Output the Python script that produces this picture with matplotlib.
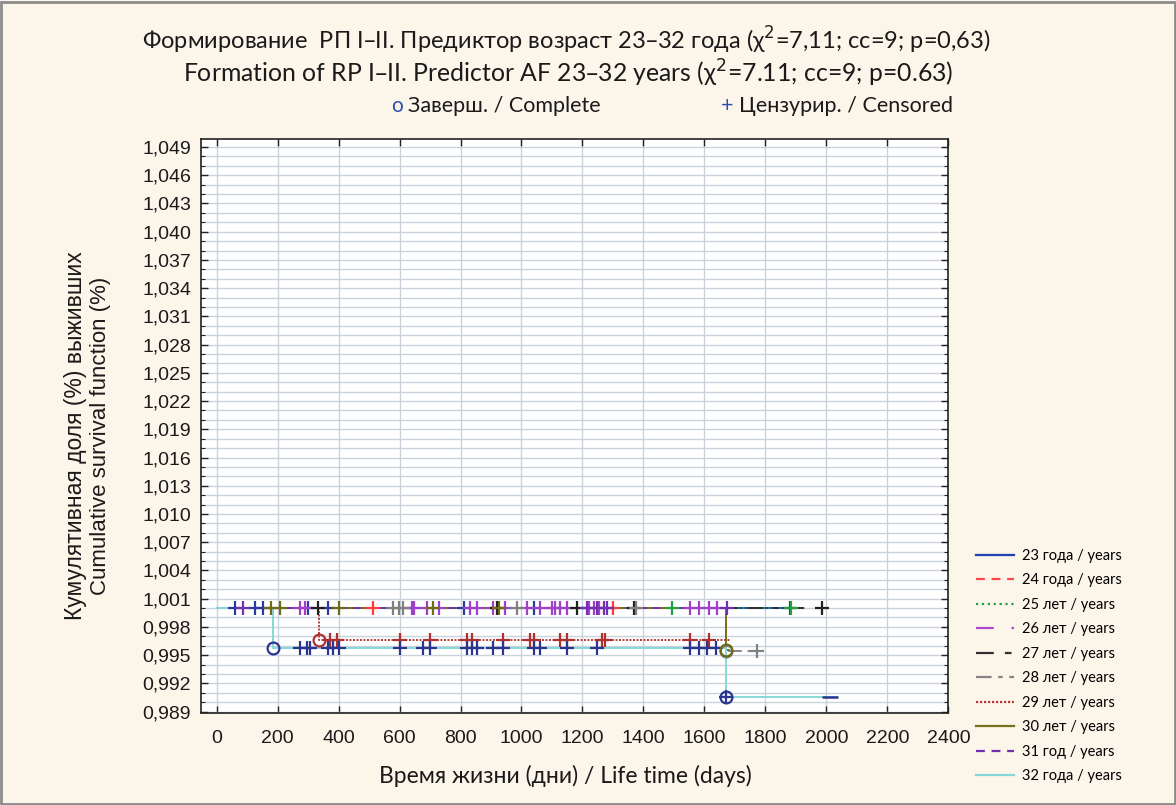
import numpy as np
import matplotlib.pyplot as plt
from matplotlib.lines import Line2D
from matplotlib.patches import Rectangle
from matplotlib.ticker import MultipleLocator, FixedLocator, FuncFormatter

labels = ['23 года / years', '24 года / years', '25 лет / years', '26 лет / years',
          '27 лет / years', '28 лет / years', '29 лет / years', '30 лет / years',
          '31 год / years', '32 года / years']

# step data per group: drop times and new survival level, censored times, last time
drop_times = [[], [], [], [], [], [1670], [335], [1670], [], [185, 1670]]
drop_levels = [[], [], [], [], [], [0.9954], [0.9966], [0.9955], [], [0.9958, 0.9906]]
censored = [
    [60, 126, 153, 301, 367, 810, 1040, 1880],
    [514, 1300],
    [1494, 1883],
    [274, 290, 640, 646, 690, 728, 832, 854, 908, 947, 1018, 1062, 1100, 1111,
     1127, 1149, 1220, 1237, 1253, 1554, 1582, 1614, 1642],
    [334, 920, 1182, 1368, 1987],
    [580, 597, 613, 985, 1374, 1773],
    [372, 394, 602, 700, 821, 837, 941, 1029, 1040, 1127, 1149, 1264, 1275,
     1554, 1614],
    [180, 208, 400, 711, 925],
    [88, 1215, 1248, 1270, 1281, 1675],
    [274, 295, 306, 367, 383, 400, 602, 678, 700, 821, 837, 854, 908, 941,
     1040, 1062, 1149, 1248, 1554, 1581, 1609, 1637, 1670],
]
end_times = [1880, 1400, 1883, 1660, 1940, 1773, 1686, 1680, 1675, 2036]

line_colors = ['#2040b0', '#ff4a4a', '#22a040', '#b048d0', '#303030', '#858585',
               '#b83a3a', '#767220', '#7030b0', '#86d8d8']
mark_colors = ['#2a3aa0', '#ff3a3a', '#22a040', '#a040c8', '#202020', '#808080',
               '#b03030', '#6e6a18', '#7030b0', '#2a3590']
line_styles = ['-', (0, (4, 3)), ':', (0, (8, 8)), (0, (8, 5, 3, 5)),
               (0, (7, 3, 2, 3)), (0, (1, 0.8)), '-', (0, (4, 3)), '-']

yticks = np.round(np.arange(0.989, 1.0495, 0.003), 3)
xticks = np.arange(0, 2401, 200)

title1 = 'Формирование  РП I–II. Предиктор возраст 23–32 года (χ$^2$=7,11; сс=9; p=0,63)'
title2 = 'Formation of RP I–II. Predictor AF 23–32 years (χ$^2$=7.11; cc=9; p=0.63)'

bg = '#fcf5ea'
fig = plt.figure(figsize=(11.76, 8.05), dpi=100, facecolor=bg)
fig.add_artist(Rectangle((0.001, 0.001), 0.998, 0.997, transform=fig.transFigure,
                         fill=False, ec='#8c8c8c', lw=2))
ax = fig.add_axes([0.1707, 0.1143, 0.8064 - 0.1707, 0.8273 - 0.1143])
ax.set_facecolor('white')

def level_at(t, dts, dls):
    lv = 1.0
    for d, l in zip(dts, dls):
        if t >= d:
            lv = l
    return lv

for i in range(len(labels)):
    xs = [0]
    ys = [1.0]
    lv = 1.0
    for d, l in zip(drop_times[i], drop_levels[i]):
        xs += [d, d]
        ys += [lv, l]
        lv = l
    xs.append(end_times[i])
    ys.append(lv)
    ax.plot(xs, ys, color=line_colors[i], ls=line_styles[i], lw=1.4, zorder=3)
    cy = [level_at(t, drop_times[i], drop_levels[i]) for t in censored[i]]
    ax.plot(censored[i], cy, ls='none', marker='+', ms=10, mew=1.6,
            color=mark_colors[i], zorder=4)
    for d, l in zip(drop_times[i], drop_levels[i]):
        ax.plot([d], [l], ls='none', marker='o', ms=8.5, mew=1.6, mfc='none',
                mec=mark_colors[i], zorder=5)
# short dash at the end of the lowest curve
ax.plot([end_times[9] - 25], [drop_levels[9][-1]], ls='none', marker='_', ms=11,
        mew=1.8, color=mark_colors[9], zorder=4)

ax.set_xlim(-52, 2400)
ax.set_ylim(0.98885, 1.04985)
ax.xaxis.set_major_locator(FixedLocator(xticks))
ax.yaxis.set_major_locator(FixedLocator(yticks))
ax.yaxis.set_minor_locator(MultipleLocator(0.001))
ax.yaxis.set_major_formatter(FuncFormatter(lambda v, p: ('%.3f' % v).replace('.', ',')))
ax.grid(True, which='major', axis='x', color='#c9d2da', lw=1)
ax.grid(True, which='both', axis='y', color='#c9d2da', lw=1)
ax.set_axisbelow(True)
ax.tick_params(which='major', direction='in', top=True, right=True, length=5,
               width=1, labelsize=14, labelcolor='#1a1a1a', color='#222222')
ax.tick_params(axis='x', pad=12)
ax.tick_params(axis='y', pad=7)
ax.tick_params(which='minor', direction='in', right=True, length=3, width=0.8,
               color='#222222')
for lb in ax.get_xticklabels() + ax.get_yticklabels():
    lb.set_fontfamily('Liberation Sans')
for s in ax.spines.values():
    s.set_color('#222222')
    s.set_linewidth(1.2)

fig.text(566 / 1176, 1 - 40 / 805, title1, ha='center', va='center', fontsize=17,
         family='Lato', color='#1a1a1a')
fig.text(568 / 1176, 1 - 73 / 805, title2, ha='center', va='center', fontsize=17.8,
         family='Lato', color='#1a1a1a')
fig.text(397 / 1176, 1 - 106 / 805, 'o', ha='center', va='center', fontsize=15,
         family='Lato', color='#2f4fb0')
fig.text(408 / 1176, 1 - 106 / 805, 'Заверш. / Complete', ha='left', va='center',
         fontsize=15.5, family='Lato', color='#1a1a1a')
fig.text(727 / 1176, 1 - 106 / 805, '+', ha='center', va='center', fontsize=15.5,
         family='Lato', color='#2f4fb0')
fig.text(739 / 1176, 1 - 106 / 805, 'Цензурир. / Censored', ha='left', va='center',
         fontsize=15.5, family='Lato', color='#1a1a1a')

fig.text(565 / 1176, 1 - 776 / 805, 'Время жизни (дни) / Life time (days)',
         ha='center', va='center', fontsize=16.5, family='Lato', color='#1a1a1a')
fig.text(76 / 1176, 1 - 436 / 805, 'Кумулятивная доля (%) выживших', rotation=90,
         ha='center', va='center', fontsize=16.5, family='Liberation Sans', color='#1a1a1a')
fig.text(101 / 1176, 1 - 436 / 805, 'Cumulative survival function (%)', rotation=90,
         ha='center', va='center', fontsize=16, family='Liberation Sans', color='#1a1a1a')

handles = [Line2D([], [], color=line_colors[i], ls=line_styles[i], lw=1.6)
           for i in range(len(labels))]
fig.legend(handles, labels, loc='upper left', bbox_to_anchor=(970 / 1176, 1 - 543 / 805),
           frameon=False, prop={'family': 'Lato', 'size': 10.5}, handlelength=2.6,
           handletextpad=0.6, labelspacing=0.72, borderaxespad=0)

fig.savefig('out.png', dpi=100, facecolor=bg)
